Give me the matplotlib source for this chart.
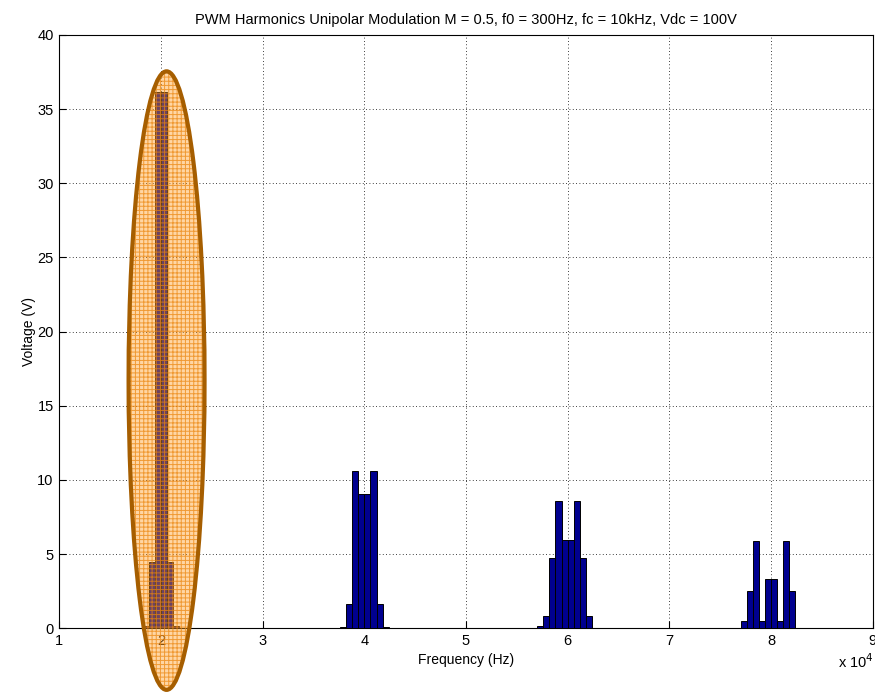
import matplotlib
matplotlib.use("Agg")
import matplotlib.pyplot as plt
from matplotlib.patches import Ellipse
import numpy as np

plt.rcParams['font.family'] = ['Liberation Sans', 'DejaVu Sans']
plt.rcParams['hatch.linewidth'] = 0.7

# ---- data ----
cluster_centers = [20000, 40000, 60000, 80000]          # Hz
sideband_offsets = [-2700, -2100, -1500, -900, -300, 300, 900, 1500, 2100, 2700]  # Hz
amps_2fc = [0.04, 0.04, 0.15, 4.45, 36.15, 36.15, 4.45, 0.15, 0.04, 0.0]
amps_4fc = [0.05, 0.12, 1.64, 10.6, 9.08, 9.08, 10.6, 1.64, 0.12, 0.0]
amps_6fc = [0.13, 0.81, 4.74, 8.59, 5.94, 5.94, 8.59, 4.74, 0.81, 0.0]
amps_8fc = [0.49, 2.52, 5.89, 0.49, 3.35, 3.35, 0.49, 5.89, 2.52, 0.0]
cluster_amps = [amps_2fc, amps_4fc, amps_6fc, amps_8fc]
bar_width = 600  # Hz

xticks = [10000, 20000, 30000, 40000, 50000, 60000, 70000, 80000, 90000]
xtick_labels = ['1', '2', '3', '4', '5', '6', '7', '8', '9']
yticks = [0, 5, 10, 15, 20, 25, 30, 35, 40]

# highlight ellipse (data coords)
ell_center = (20550, 16.7)
ell_width = 7470
ell_height = 41.7

fig = plt.figure(figsize=(8.75, 6.92), dpi=100)
ax = fig.add_axes([59.3/875, 1-628.3/692, (872.7-59.3)/875, (628.3-35)/692])

for c, amps in zip(cluster_centers, cluster_amps):
    xs = [c + o for o in sideband_offsets]
    ax.bar(xs, amps, width=bar_width, color='#00008F', edgecolor='black',
           linewidth=0.7, zorder=3)

ax.set_xlim(10000, 90000)
ax.set_ylim(0, 40)
ax.set_xticks(xticks)
ax.set_xticklabels(xtick_labels)
ax.set_yticks(yticks)
ax.grid(True, linestyle=(0, (1, 3)), color='black', linewidth=0.6)
ax.set_axisbelow(True)
ax.tick_params(direction='in', length=5, width=0.8, labelsize=10.5, pad=4)
for s in ax.spines.values():
    s.set_linewidth(0.8)

ax.set_title('PWM Harmonics Unipolar Modulation M = 0.5, f0 = 300Hz, fc = 10kHz, Vdc = 100V',
             fontsize=10.5, pad=8)
ax.set_xlabel('Frequency (Hz)', fontsize=10, labelpad=4)
ax.set_ylabel('Voltage (V)', fontsize=10, labelpad=1)
fig.text(838/875, 1-662/692, 'x 10$^4$', fontsize=10.5, ha='left', va='center')

# highlight
fill = Ellipse(ell_center, ell_width, ell_height, facecolor=(1.0, 0.62, 0.15, 0.42),
               edgecolor=(0.92, 0.52, 0.05, 0.75), linewidth=0, hatch='++++',
               zorder=5, clip_on=False)
ax.add_patch(fill)
edge = Ellipse(ell_center, ell_width, ell_height, fill=False,
               edgecolor='#A65E00', linewidth=3.0, zorder=6, clip_on=False)
ax.add_patch(edge)

fig.savefig('out.png', dpi=100)
